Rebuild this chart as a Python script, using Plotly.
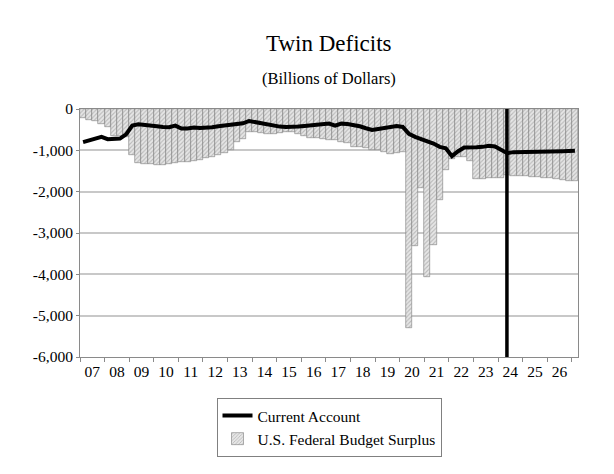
"""
Twin Deficits: U.S. current account vs. federal budget surplus,
quarterly, billions of dollars (2007 to 2026, forecast after the black line).
"""

import plotly.graph_objects as go

# Quarterly values, 2007Q1 onwards
BUDGET_SURPLUS = [
    -220, -260, -300, -360,      # 2007
    -430, -650, -660, -680,      # 2008
    -1110, -1310, -1330, -1340,  # 2009
    -1350, -1350, -1330, -1310,  # 2010
    -1290, -1280, -1260, -1230,  # 2011
    -1190, -1150, -1110, -1060,  # 2012
    -990, -790, -730, -560,      # 2013
    -560, -590, -610, -610,      # 2014
    -570, -560, -560, -600,      # 2015
    -660, -690, -700, -720,      # 2016
    -740, -760, -790, -820,      # 2017
    -920, -930, -950, -990,      # 2018
    -1000, -1050, -1080, -1060,  # 2019
    -1050, -5300, -3320, -1910,  # 2020
    -4060, -3280, -2190, -1470,  # 2021
    -1200, -1150, -1150, -1270,  # 2022
    -1690, -1690, -1680, -1680,  # 2023
    -1670, -1600, -1610, -1620,  # 2024
    -1630, -1640, -1650, -1660,  # 2025
    -1670, -1690, -1710, -1730,  # 2026
    -1750,
]

CURRENT_ACCOUNT = [
    -803, -763, -707, -675,      # 2007
    -731, -723, -715, -615,      # 2008
    -402, -370, -378, -394,      # 2009
    -418, -434, -442, -402,      # 2010
    -474, -474, -450, -458,      # 2011
    -458, -442, -418, -402,      # 2012
    -386, -370, -346, -289,      # 2013
    -321, -337, -362, -402,      # 2014
    -426, -434, -442, -426,      # 2015
    -410, -402, -386, -378,      # 2016
    -354, -402, -354, -362,      # 2017
    -386, -418, -466, -506,      # 2018
    -482, -450, -434, -410,      # 2019
    -434, -600, -675, -723,      # 2020
    -763, -836, -916, -948,      # 2021
    -1141, -1020, -932, -916,    # 2022
    -924, -916, -892, -908,      # 2023
    -980, -1068, -1044, -1044,   # 2024
    -1040, -1036, -1032, -1030,  # 2025
    -1028, -1024, -1020, -1016,  # 2026
    -1012,
]

FIRST_YEAR = 2007
YEAR_LABELS = ["07", "08", "09", "10", "11", "12", "13", "14", "15", "16",
               "17", "18", "19", "20", "21", "22", "23", "24", "25", "26"]
Y_TICKS = [0, -1000, -2000, -3000, -4000, -5000, -6000]
Y_TICK_TEXT = ["0", "-1,000", "-2,000", "-3,000", "-4,000", "-5,000", "-6,000"]
FORECAST_START = 2024.36

FONT = "Liberation Serif, Times New Roman, serif"
AXIS_GRAY = "#8a8a8a"

# quarter midpoints on a decimal-year axis
quarters = [FIRST_YEAR + (i + 0.5) / 4 for i in range(len(BUDGET_SURPLUS))]
year_mids = [FIRST_YEAR + i + 0.5 for i in range(len(YEAR_LABELS))]
year_edges = [FIRST_YEAR + i for i in range(len(YEAR_LABELS) + 1)]

fig = go.Figure()
fig.add_trace(
    go.Bar(
        x=quarters, y=BUDGET_SURPLUS, width=0.25,
        name="U.S. Federal Budget Surplus", legendrank=2,
        marker=dict(
            color="#e6e6e6",
            line=dict(color="#7c7c7c", width=0.6),
            pattern=dict(shape="/", fgcolor="#8c8c8c", size=3, solidity=0.35),
        ),
    )
)
fig.add_trace(
    go.Scatter(
        x=quarters, y=CURRENT_ACCOUNT, mode="lines",
        name="Current Account", legendrank=1,
        line=dict(color="black", width=4),
    )
)

fig.add_shape(
    type="line", xref="x", yref="paper",
    x0=FORECAST_START, x1=FORECAST_START, y0=0, y1=1,
    line=dict(color="black", width=3.5),
)

# the page sits 8px in from the window corner, so the figure is 8px smaller
fig.add_annotation(text="Twin Deficits", xref="paper", yref="paper", x=0.5, y=1.266,
                   xanchor="center", yanchor="middle", showarrow=False,
                   font=dict(size=23, family=FONT, color="black"))
fig.add_annotation(text="(Billions of Dollars)", xref="paper", yref="paper", x=0.5, y=1.125,
                   xanchor="center", yanchor="middle", showarrow=False,
                   font=dict(size=16.5, family=FONT, color="black"))

fig.update_xaxes(
    range=[FIRST_YEAR, FIRST_YEAR + 20.25],
    tickmode="array", tickvals=year_mids, ticktext=YEAR_LABELS, ticks="",
    minor=dict(tickmode="array", tickvals=year_edges, ticks="outside",
               ticklen=4, tickcolor=AXIS_GRAY, showgrid=False),
    showgrid=False, zeroline=False,
    showline=True, linecolor=AXIS_GRAY, linewidth=1, mirror=True,
    tickfont=dict(size=15.5, family=FONT, color="black"),
)
fig.update_yaxes(
    range=[-6000, 0],
    tickmode="array", tickvals=Y_TICKS, ticktext=Y_TICK_TEXT,
    ticks="outside", ticklen=3, tickcolor=AXIS_GRAY,
    showgrid=True, gridcolor="#c8c8c8", gridwidth=1.5, zeroline=False,
    showline=True, linecolor=AXIS_GRAY, linewidth=1, mirror=True,
    tickfont=dict(size=15.5, family=FONT, color="black"),
)

fig.update_layout(
    width=606, height=466,
    margin=dict(l=72, r=36, t=101, b=117),
    paper_bgcolor="white", plot_bgcolor="white",
    font=dict(family=FONT, color="black"),
    bargap=0,
    legend=dict(
        x=0.5, xanchor="center", y=-0.165, yanchor="top",
        bordercolor="#808080", borderwidth=1, bgcolor="white",
        font=dict(size=15.5, family=FONT, color="black"),
        tracegroupgap=0,
    ),
)

fig.write_html("out.html")
